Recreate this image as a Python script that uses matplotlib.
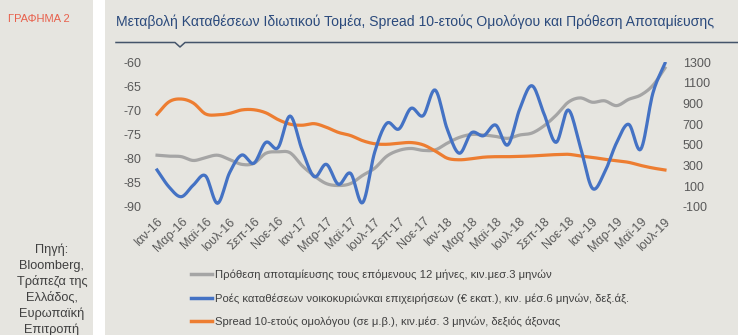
import numpy as np
import matplotlib
matplotlib.use("Agg")
import matplotlib.pyplot as plt
from matplotlib.lines import Line2D

plt.rcParams['font.family'] = ['Liberation Sans', 'DejaVu Sans']
plt.rcParams['axes.unicode_minus'] = False

# Data (monthly, Ιαν-16 .. Ιουλ-19)
months = ['Ιαν', 'Φεβ', 'Μαρ', 'Απρ', 'Μαϊ', 'Ιουν', 'Ιουλ', 'Αυγ', 'Σεπ', 'Οκτ', 'Νοε', 'Δεκ']
years = [16, 17, 18, 19]
savings = [-79.3, -79.5, -79.6, -80.4, -79.8, -79.3, -80.2, -81.2, -81.0, -78.9,
           -78.6, -78.8, -81.5, -83.6, -85.2, -85.6, -85.2, -83.5, -82.0, -79.5,
           -78.3, -77.9, -78.3, -78.2, -76.8, -75.6, -75.0, -75.1, -75.4, -75.8,
           -75.1, -74.7, -73.2, -71.0, -68.3, -67.4, -68.3, -68.0, -69.0, -67.7,
           -66.8, -64.8, -61.2]
deposits = [256, 90, -3, 110, 200, -67, 230, 401, 321, 524,
            472, 779, 450, 191, 311, 117, 224, -61, 430, 709,
            653, 854, 782, 1031, 650, 418, 617, 588, 692, 498,
            850, 1073, 800, 524, 838, 480, 78, 230, 520, 699,
            457, 1000, 1290]
spread = [796, 918, 944, 905, 800, 790, 805, 838, 840, 810,
          745, 700, 690, 705, 670, 620, 590, 540, 510, 505,
          515, 522, 500, 440, 370, 355, 365, 380, 385, 385,
          388, 392, 400, 405, 408, 392, 378, 360, 345, 330,
          300, 275, 256]

labels = ['Πρόθεση αποταμίευσης τους επόμενους 12 μήνες, κιν.μεσ.3 μηνών',
          'Ροές καταθέσεων νοικοκυριώνκαι επιχειρήσεων (€ εκατ.), κιν. μέσ.6 μηνών, δεξ.άξ.',
          'Spread 10-ετούς ομολόγου (σε μ.β.), κιν.μέσ. 3 μηνών, δεξιός άξονας']

n = len(savings)
tick_pos = list(range(0, n, 2))
tick_lab = [f'{months[i % 12]}-{years[i // 12]}' for i in tick_pos]


def smooth(y, k=12):
    # Catmull-Rom curve through the points, like Excel's smoothed line
    y = np.asarray(y, float)
    p = np.concatenate([[2 * y[0] - y[1]], y, [2 * y[-1] - y[-2]]])
    t = np.linspace(0, 1, k, endpoint=False)
    xs, ys = [], []
    for i in range(len(y) - 1):
        p0, p1, p2, p3 = p[i:i + 4]
        ys.append(0.5 * (2 * p1 + (p2 - p0) * t + (2 * p0 - 5 * p1 + 4 * p2 - p3) * t ** 2
                         + (3 * p1 - p0 - 3 * p2 + p3) * t ** 3))
        xs.append(i + t)
    xs.append([len(y) - 1])
    ys.append([y[-1]])
    return np.concatenate(xs), np.concatenate(ys)


bg = '#e6e5e0'
W, H = 738, 335
fig = plt.figure(figsize=(W / 100, H / 100), dpi=100)
fig.patch.set_facecolor(bg)
# white separator between side panel and chart
fig.patches.append(plt.Rectangle((93 / W, 0), 12 / W, 1, transform=fig.transFigure,
                                 facecolor='white', edgecolor='none'))

ax = fig.add_axes([151 / W, 1 - 206.7 / H, 520 / W, 144.4 / H])
ax.set_facecolor(bg)
ax2 = ax.twinx()

c_gray, c_blue, c_orange = '#a5a5a5', '#4472c4', '#ed7d31'
lw = 2.3
l1, = ax.plot(*smooth(savings), color=c_gray, lw=lw, zorder=2)
l3, = ax2.plot(*smooth(spread), color=c_orange, lw=lw, zorder=2)
l2, = ax2.plot(*smooth(deposits), color=c_blue, lw=lw, zorder=3)

ax.set_xlim(-0.5, n - 0.5)
ax.set_ylim(-90, -60)
ax.set_yticks(range(-90, -59, 5))
ax2.set_ylim(-100, 1300)
ax2.set_yticks(range(-100, 1301, 200))
ax.set_xticks(tick_pos)
ax.set_xticklabels(tick_lab, rotation=45, ha='right', va='top', rotation_mode='anchor',
                   fontsize=7.3, color='#595959')
for a in (ax, ax2):
    for s in a.spines.values():
        s.set_visible(False)
    a.tick_params(length=0, labelsize=9, labelcolor='#595959')
ax.tick_params(axis='y', pad=7)
ax.tick_params(axis='x', pad=6)
ax2.tick_params(axis='y', pad=8.5)

fig.legend([Line2D([], [], color=c, lw=2.5) for c in (c_gray, c_blue, c_orange)], labels,
           loc='upper left', bbox_to_anchor=(186 / W, 1 - 265 / H), frameon=False,
           fontsize=8.1, handlelength=1.9, handletextpad=0.25, labelspacing=1.15,
           labelcolor='#404040', borderaxespad=0)

# title and rule with notch
fig.text(116 / W, 1 - 22 / H, 'Μεταβολή Καταθέσεων Ιδιωτικού Τομέα, Spread 10-ετούς Ομολόγου και Πρόθεση Αποταμίευσης',
         fontsize=10.1, color='#2b4a7c', va='center')
rx = np.array([116, 175, 180, 185, 738]) / W
ry = 1 - np.array([42.5, 42.5, 47, 42.5, 42.5]) / H
fig.add_artist(Line2D(rx, ry, color='#44546a', lw=1.1, transform=fig.transFigure))

# side panel
fig.text(8 / W, 1 - 19 / H, 'ΓΡΑΦΗΜΑ 2', fontsize=8, color='#e8604c', va='center')
fig.text(52 / W, 1 - 244 / H, 'Πηγή:\nBloomberg,\nΤράπεζα της\nΕλλάδος,\nΕυρωπαϊκή\nΕπιτροπή',
         fontsize=9.2, color='#404040', ha='center', va='top', linespacing=1.36)

fig.savefig('out.png', dpi=100, facecolor=bg)
